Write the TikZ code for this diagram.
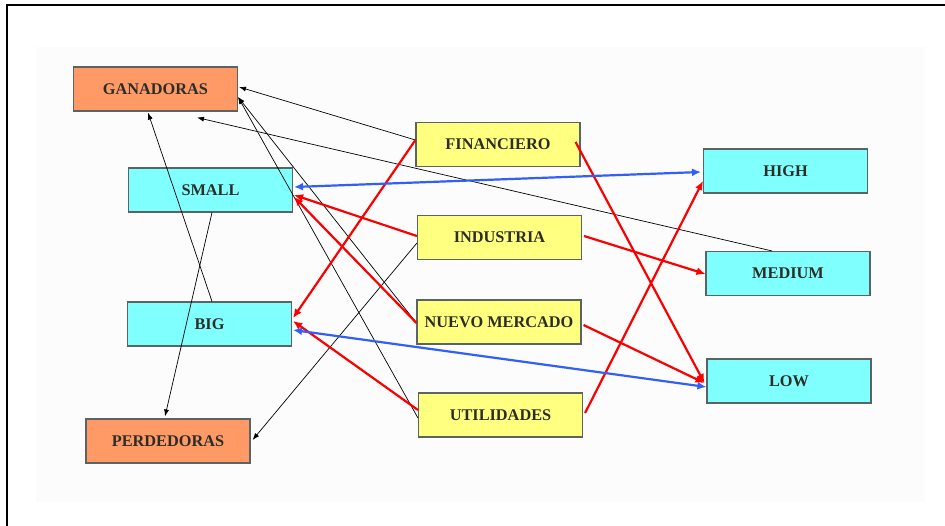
\documentclass[tikz,border=0pt]{standalone}
\usepackage{fontspec}
\setmainfont{Liberation Serif}
\usetikzlibrary{arrows.meta}
\definecolor{salmon}{RGB}{255,153,102}
\definecolor{cyanbox}{RGB}{128,255,255}
\definecolor{yellowbox}{RGB}{255,255,128}
\definecolor{boxline}{RGB}{90,100,100}
\definecolor{txt}{RGB}{45,45,40}
\definecolor{redline}{RGB}{250,0,0}
\definecolor{blueline}{RGB}{50,95,245}
\definecolor{bgfaint}{RGB}{252,252,252}
\tikzset{
  box/.style={draw=boxline, line width=1.1pt, minimum width=164pt, minimum height=44pt,
    inner sep=0pt, font=\fontsize{16.3}{16}\selectfont\bfseries, text=txt},
  outbox/.style={box, fill=salmon},
  sizebox/.style={box, fill=cyanbox},
  sectbox/.style={box, fill=yellowbox},
  blk/.style={draw=black, line width=0.7pt, -{Latex[length=7pt,width=5pt]}},
  redarr/.style={draw=redline, line width=2.2pt, -{Latex[length=9pt,width=8pt]}},
  bluearr/.style={draw=blueline, line width=2.2pt, {Latex[length=9pt,width=8pt]}-{Latex[length=9pt,width=8pt]}},
}
\begin{document}
\begin{tikzpicture}[x=1pt,y=-1pt]
\useasboundingbox (0,0) rectangle (945,526);
\fill[bgfaint] (36,47) rectangle (925,502);
\draw[line width=2pt] (7,526) -- (7,5) -- (945,5);

\node[outbox] (gan) at (155.5,89) {GANADORAS};
\node[sizebox] (small) at (210.5,190) {SMALL};
\node[sizebox] (big) at (209.5,324) {BIG};
\node[outbox] (perd) at (168,441) {PERDEDORAS};
\node[sectbox] (fin) at (498,144.5) {FINANCIERO};
\node[sectbox] (ind) at (499.5,237.5) {INDUSTRIA};
\node[sectbox] (nm) at (499,322) {NUEVO MERCADO};
\node[sectbox] (util) at (500.5,415) {UTILIDADES};
\node[sizebox] (high) at (785.5,171) {HIGH};
\node[sizebox] (med) at (788,273.5) {MEDIUM};
\node[sizebox] (low) at (789,381) {LOW};

% black connectors
\draw[blk] ([yshift=4.5pt]fin.west) -- ([xshift=1pt,yshift=2pt]gan.east);
\draw[blk] ([yshift=-1pt]nm.west) -- ([yshift=-8pt]gan.east);
\draw[blk] ([yshift=-3pt]util.west) -- ([yshift=-8pt]gan.east);
\draw[blk] ([xshift=-16pt]med.north) -- ([xshift=41.5pt,yshift=-6pt]gan.south);
\draw[blk] ([xshift=2.5pt]big.north) -- ([xshift=-7.5pt,yshift=-1pt]gan.south);
\draw[blk] ([xshift=1.5pt]small.south) -- ([xshift=-3pt,yshift=2pt]perd.north);
\draw[blk] ([yshift=-5.5pt]ind.west) -- ([xshift=2pt,yshift=1pt]perd.east);

% red connectors
\draw[redarr] ([yshift=4.5pt]fin.west) -- ([xshift=1pt,yshift=6pt]big.east);
\draw[redarr] ([yshift=1.5pt]ind.west) -- ([xshift=1pt,yshift=-5pt]small.east);
\draw[redarr] ([yshift=-1pt]nm.west) -- ([xshift=1pt,yshift=-7pt]small.east);
\draw[redarr] ([yshift=5pt]util.west) -- ([xshift=1pt,yshift=3pt]big.east);
\draw[redarr] ([xshift=-5pt,yshift=2.5pt]fin.east) -- ([xshift=-2pt,yshift=-2pt]low.west);
\draw[redarr] ([xshift=2pt,yshift=1.5pt]ind.east) -- ([yshift=-0.5pt]med.west);
\draw[redarr] ([xshift=2pt,yshift=-3pt]nm.east) -- ([xshift=-2pt,yshift=-2pt]low.west);
\draw[redarr] ([xshift=2pt,yshift=2pt]util.east) -- ([yshift=-10pt]high.west);

% blue connectors
\draw[bluearr] ([xshift=1pt,yshift=3pt]small.east) -- ([xshift=-2pt,yshift=-1pt]high.west);
\draw[bluearr] ([xshift=1pt,yshift=-6pt]big.east) -- ([yshift=-6pt]low.west);
\end{tikzpicture}
\end{document}
